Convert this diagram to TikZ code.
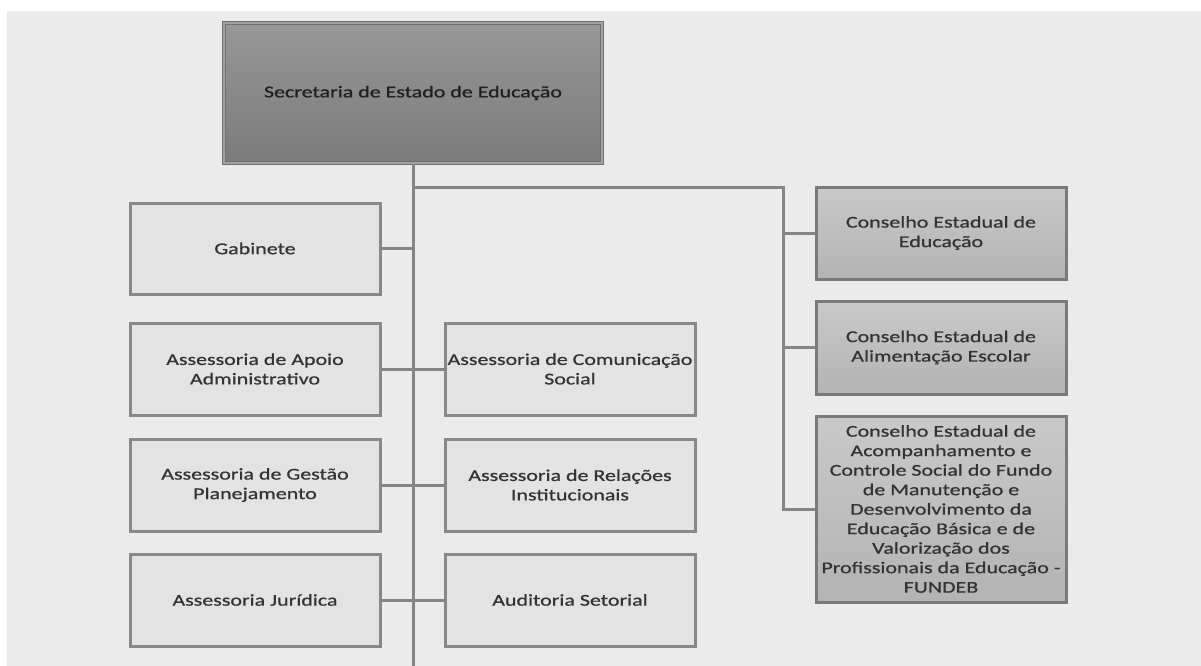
\documentclass[tikz,border=0pt]{standalone}
\usepackage{fontspec}
\setmainfont{Carlito}[FakeStretch=1.33, FakeBold=0.8]
\definecolor{bgc}{HTML}{EBEBEB}
\definecolor{linec}{HTML}{858585}
\definecolor{txtc}{HTML}{333333}
\definecolor{lfill}{HTML}{E3E3E3}
\definecolor{lborder}{HTML}{888888}
\definecolor{ctop}{HTML}{C9C9C9}
\definecolor{cbot}{HTML}{B3B3B3}
\definecolor{cborder}{HTML}{7A7A7A}
\definecolor{ttop}{HTML}{979797}
\definecolor{tbot}{HTML}{7B7B7B}
\definecolor{tborder}{HTML}{707070}
\definecolor{tinner}{HTML}{A2A2A2}
\tikzset{
  boxbase/.style={rectangle, inner sep=0pt, align=center, text=txtc,
    font=\fontsize{16.5}{19.5}\selectfont},
  lbox/.style={boxbase, fill=lfill, draw=lborder, line width=3pt,
    minimum width=250pt, minimum height=92pt},
  cbox/.style={boxbase, top color=ctop, bottom color=cbot, draw=cborder,
    line width=3pt, minimum width=250pt},
  topbox/.style={boxbase, top color=ttop, bottom color=tbot, draw=tborder,
    line width=1.6pt, minimum width=378pt, minimum height=140pt, text=black!88,
    double=tinner, double distance=1.2pt},
  conn/.style={draw=linec, line width=3pt}
}
\begin{document}
\begin{tikzpicture}[x=1pt,y=1pt]
\useasboundingbox (0,0) rectangle (1201,-666);
\fill[white] (0,0) rectangle (1201,-666);
\fill[bgc] (7,-11) rectangle (1201,-666);

% connector points
\coordinate (trunkend) at (413,-666);
\coordinate (br1) at (413,-187);
\coordinate (br2) at (783,-187);

% nodes
\node[topbox] (top) at (413,-93) {Secretaria de Estado de Educação};

\node[lbox, minimum height=91pt] (gab) at (255,-248.5) {Gabinete};
\node[lbox] (a1) at (255,-369) {Assessoria de Apoio\\Administrativo};
\node[lbox] (b1) at (570,-369) {Assessoria de Comunicação\\Social};
\node[lbox] (a2) at (255,-485) {Assessoria de Gestão\\Planejamento};
\node[lbox] (b2) at (570,-485) {Assessoria de Relações\\Institucionais};
\node[lbox] (a3) at (255,-600) {Assessoria Jurídica};
\node[lbox] (b3) at (570,-600) {Auditoria Setorial};

\node[cbox, minimum height=92pt] (c1) at (941,-233) {Conselho Estadual de\\Educação};
\node[cbox, minimum height=93pt] (c2) at (941,-347.5) {Conselho Estadual de\\Alimentação Escolar};
\node[cbox, minimum height=186pt] (c3) at (941,-509) {Conselho Estadual de\\Acompanhamento e\\Controle Social do Fundo\\de Manutenção e\\Desenvolvimento da\\Educação Básica e de\\Valorização dos\\Profissionais da Educação -\\FUNDEB};

\draw[conn] (top.south) -- (trunkend);
\draw[conn] (br1) -- (br2) |- (c3.west);
\draw[conn] (br2) |- (c1.west);
\draw[conn] (br2) |- (c2.west);
\draw[conn] (gab.east) -- (gab.east -| br1);
\draw[conn] (a1.east) -- (b1.west);
\draw[conn] (a2.east) -- (b2.west);
\draw[conn] (a3.east) -- (b3.west);
\end{tikzpicture}
\end{document}
